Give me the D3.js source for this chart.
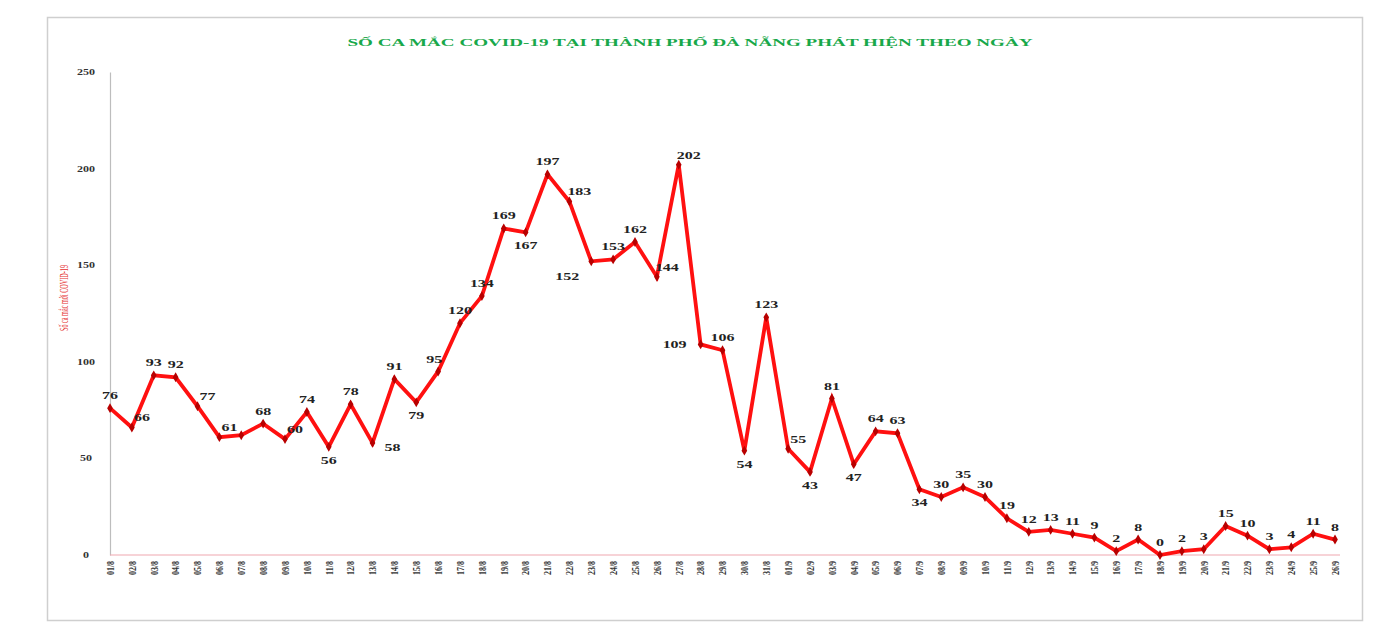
<!DOCTYPE html>
<html>
<head>
<meta charset="utf-8">
<script src="https://cdn.jsdelivr.net/npm/d3@7"></script>
<style>
  html, body { margin: 0; padding: 0; background: #fff; }
  svg { display: block; }
</style>
</head>
<body>
<svg id="chart"></svg>
<script>
// Chart data
const dates = [
  "01/8", "02/8", "03/8", "04/8", "05/8", "06/8", "07/8", "08/8", "09/8", "10/8",
  "11/8", "12/8", "13/8", "14/8", "15/8", "16/8", "17/8", "18/8", "19/8", "20/8",
  "21/8", "22/8", "23/8", "24/8", "25/8", "26/8", "27/8", "28/8", "29/8", "30/8",
  "31/8", "01/9", "02/9", "03/9", "04/9", "05/9", "06/9", "07/9", "08/9", "09/9",
  "10/9", "11/9", "12/9", "13/9", "14/9", "15/9", "16/9", "17/9", "18/9", "19/9",
  "20/9", "21/9", "22/9", "23/9", "24/9", "25/9", "26/9"
];
const cases = [
  76, 66, 93, 92, 77, 61, 62, 68, 60, 74,
  56, 78, 58, 91, 79, 95, 120, 134, 169, 167,
  197, 183, 152, 153, 162, 144, 202, 109, 106, 54,
  123, 55, 43, 81, 47, 64, 63, 34, 30, 35,
  30, 19, 12, 13, 11, 9, 2, 8, 0, 2,
  3, 15, 10, 3, 4, 11, 8
];
// where each value label sits relative to its point
const labelPlace = [
  "t", "tr", "t", "t", "tr", "tr", "none", "t", "tr", "t",
  "b", "t", "r", "t", "b", "tl", "t", "t", "t", "b",
  "t", "tr", "bl", "t", "t", "tr", "tr", "l", "t", "b",
  "t", "tr", "b", "t", "b", "t", "t", "b", "t", "t",
  "t", "t", "t", "t", "t", "t", "t", "t", "t", "t",
  "t", "t", "t", "t", "t", "t", "t"
];
const yTicks = [0, 50, 100, 150, 200, 250];

const title = "SỐ CA MẮC COVID-19 TẠI THÀNH PHỐ ĐÀ NẴNG PHÁT HIỆN THEO NGÀY";
const yTitle = "Số ca mắc mới COVID-19";

const width = 1390, height = 644;
const stretch = 1.6; // the picture's text is widened horizontally
const svg = d3.select("#chart").attr("width", width).attr("height", height);

// Chart frame
svg.append("rect")
  .attr("x", 47.5).attr("y", 17.5)
  .attr("width", 1315).attr("height", 603)
  .attr("fill", "#fff")
  .attr("stroke", "#cfcfcf")
  .attr("stroke-width", 1.5);

svg.append("text")
  .attr("x", 690).attr("y", 46)
  .attr("text-anchor", "middle")
  .attr("textLength", 685)
  .attr("lengthAdjust", "spacingAndGlyphs")
  .style("font-family", "'Liberation Serif', serif")
  .style("font-weight", "bold")
  .style("font-size", "10px")
  .style("fill", "#18a84a")
  .text(title);

// Scales
const x = d3.scalePoint().domain(dates).range([110, 1335]);
const y = d3.scaleLinear().domain([0, 250]).range([555, 72]);

// Y axis
const yAxis = svg.append("g")
  .attr("transform", "translate(110,0)")
  .call(d3.axisLeft(y).tickValues(yTicks).tickSize(0));
yAxis.select(".domain").attr("stroke", "#bdbdbd").attr("stroke-width", 1.2);
yAxis.selectAll("text")
  .attr("x", 0)
  .attr("text-anchor", "middle")
  .attr("transform", `translate(-24,0) scale(${stretch},1)`)
  .style("font-family", "'Liberation Serif', serif")
  .style("font-weight", "bold")
  .style("font-size", "7.5px")
  .style("fill", "#333");

svg.append("text")
  .attr("transform", "translate(68,298) rotate(-90) scale(1,1.25)")
  .attr("text-anchor", "middle")
  .attr("textLength", 66)
  .attr("lengthAdjust", "spacingAndGlyphs")
  .style("font-family", "'Liberation Serif', serif")
  .style("font-size", "10px")
  .style("fill", "#e53030")
  .text(yTitle);

// X axis
const xAxis = svg.append("g")
  .attr("transform", "translate(0,555)")
  .call(d3.axisBottom(x).tickSize(0).tickPadding(0));
xAxis.select(".domain")
  .attr("d", "M110,0H1340")
  .attr("stroke", "#f0a8b0")
  .attr("stroke-width", 1.2);
xAxis.selectAll("text")
  .attr("transform", "translate(0,13) rotate(-90) scale(1,1.3)")
  .attr("dy", "0.32em")
  .attr("y", 0)
  .attr("text-anchor", "middle")
  .style("font-family", "'Liberation Serif', serif")
  .style("font-weight", "bold")
  .style("font-size", "8px")
  .style("fill", "#333");

// Line
const line = d3.line()
  .x((d, i) => x(dates[i]))
  .y(d => y(d));

svg.append("path")
  .datum(cases)
  .attr("d", line)
  .attr("fill", "none")
  .attr("stroke", "#ff1010")
  .attr("stroke-width", 3.8)
  .attr("stroke-linejoin", "miter");

// Markers
svg.append("g").selectAll("path")
  .data(cases)
  .enter()
  .append("path")
  .attr("d", d3.symbol().type(d3.symbolDiamond).size(28))
  .attr("transform", (d, i) => `translate(${x(dates[i])},${y(d)})`)
  .attr("fill", "#b80000");

// Value labels
const offsets = {
  t: [0, -9], b: [0, 17], r: [20, 8], l: [-26, 4],
  tr: [10, -6], tl: [-4, -8], bl: [-24, 19]
};
svg.append("g").selectAll("text")
  .data(cases.map((v, i) => ({ v, i })).filter(d => labelPlace[d.i] !== "none"))
  .enter()
  .append("text")
  .attr("text-anchor", "middle")
  .attr("transform", d => {
    const o = offsets[labelPlace[d.i]];
    return `translate(${x(dates[d.i]) + o[0]},${y(d.v) + o[1]}) scale(${stretch},1)`;
  })
  .style("font-family", "'Liberation Serif', serif")
  .style("font-weight", "bold")
  .style("font-size", "10px")
  .style("fill", "#222")
  .text(d => d.v);
</script>
</body>
</html>
